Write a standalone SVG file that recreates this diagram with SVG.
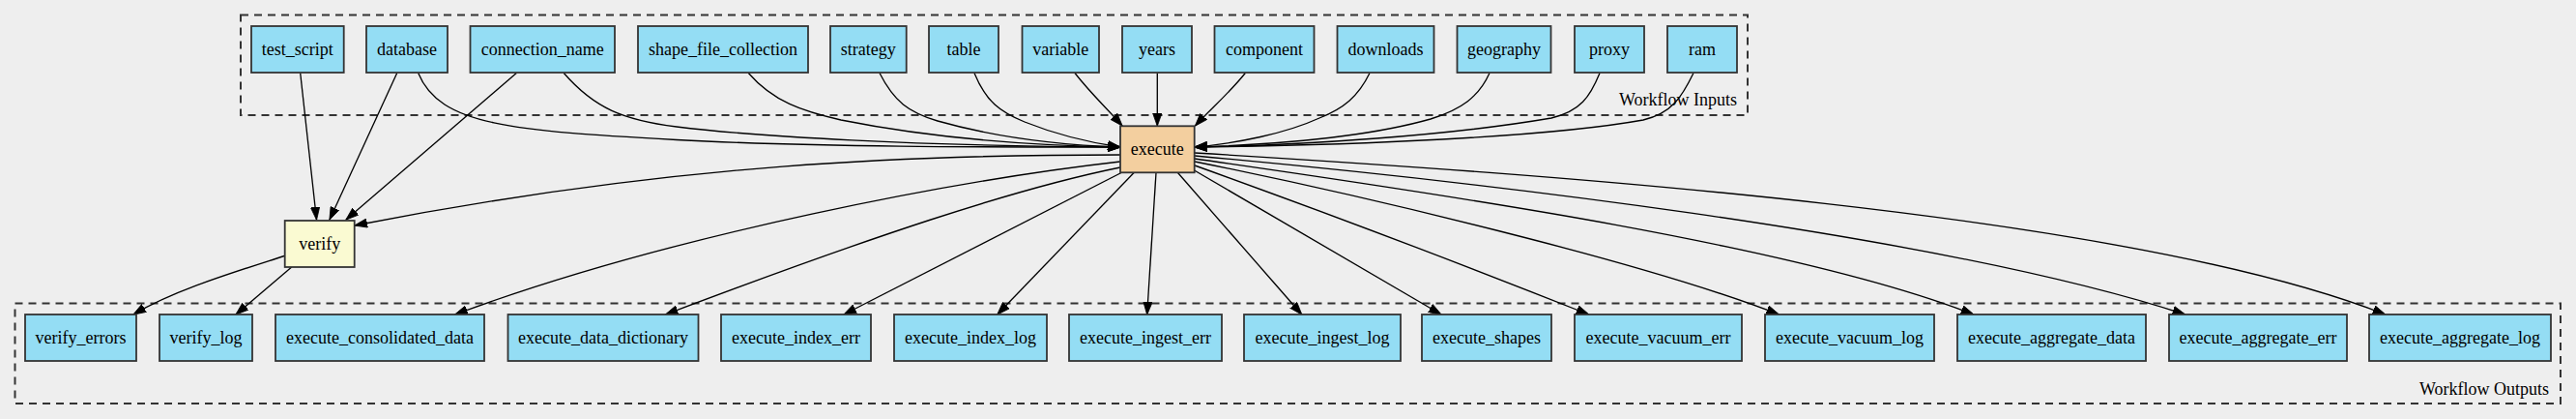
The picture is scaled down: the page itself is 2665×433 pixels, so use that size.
<svg xmlns="http://www.w3.org/2000/svg" width="2665" height="433" viewBox="0 0 2665 433">
<defs>
<style>
.bg{fill:#eeeeee}
.cl{fill:none;stroke:#333;stroke-width:2;stroke-dasharray:8,6}
.in rect,.out rect{fill:#94ddf4;stroke:#333;stroke-width:1.8}
.ex rect{fill:#f3cf9f;stroke:#333;stroke-width:1.8}
.vf rect{fill:#fafad2;stroke:#333;stroke-width:1.8}
text{font-family:"Liberation Serif","Times New Roman",serif;font-size:18px;fill:#000}
.n text{text-anchor:middle}
.lbl{text-anchor:end}
#edges path{fill:none;stroke:#000;stroke-width:1.33;marker-end:url(#ah)}
</style>
<marker id="ah" markerUnits="userSpaceOnUse" viewBox="0 0 14 10" refX="13" refY="5" markerWidth="14" markerHeight="10" orient="auto">
<path d="M0,0.33 L13.33,5 L0,9.67 z" fill="#000" stroke="#000" stroke-width="0.8"/>
</marker>
</defs>
<rect class="bg" x="0" y="0" width="2665" height="433"/>
<g id="cluster_inputs">
<rect class="cl" x="249" y="15.5" width="1559" height="103.5"/>
<text class="lbl" x="1797" y="109">Workflow Inputs</text>
</g>
<g id="cluster_outputs">
<rect class="cl" x="15.5" y="313.5" width="2633.5" height="103.5"/>
<text class="lbl" x="2637" y="408">Workflow Outputs</text>
</g>
<g id="edges">
<path d="M310.7,75.5 L327.5,227"/>
<path d="M410.7,75.5 L341,227"/>
<path d="M534.3,75.5 L358,227"/>
<path d="M1159,160 C950,160 700,168 367,233"/>
<path d="M432.7,75.5 C455,130 530,135 700,144.5 C850,152.5 1050,152 1159,152"/>
<path d="M583.3,75.5 C615,112 645,124 700,131 C780,141 950,151 1159,152"/>
<path d="M774.3,75.5 C800,105 830,115 870,124 C950,140 1050,150 1159,152"/>
<path d="M910,75.5 C925,105 940,116 970,125 C1030,142 1100,150 1159,152"/>
<path d="M1008,75.5 C1020,105 1035,116 1060,126 C1090,138 1125,147 1159,152"/>
<path d="M1112,75.5 C1128,96 1145,112 1161,130"/>
<path d="M1197.3,75.5 L1197.3,130"/>
<path d="M1288.3,75.5 C1272,96 1252,113 1236.5,130"/>
<path d="M1417,75.5 C1405,100 1390,112 1365,122 C1330,138 1280,148 1236,152"/>
<path d="M1541,75.5 C1530,100 1512,113 1480,123 C1420,140 1330,149 1236,152"/>
<path d="M1655,75.5 C1645,100 1635,115 1605,122 C1500,140 1350,150 1236,152"/>
<path d="M1752,75.5 C1740,100 1730,117 1700,124 C1600,142 1400,150 1236,152"/>
<path d="M294,264.5 C240,282 180,300 138,325"/>
<path d="M301.7,276 L244,325"/>
<path d="M1159,167 C1000,185 700,240 470.7,325"/>
<path d="M1159,173 C1050,195 900,245 688.5,325"/>
<path d="M1161,178 C1100,210 1000,260 873,325"/>
<path d="M1173.3,178.3 L1031.8,325"/>
<path d="M1196,178.3 L1186.7,325"/>
<path d="M1218.3,178.3 L1346.7,325"/>
<path d="M1235.5,176 L1491,325"/>
<path d="M1236,171 C1370,219 1510,272 1643.7,325"/>
<path d="M1236,167 C1400,200 1700,270 1840.4,325"/>
<path d="M1236,164 C1450,195 1850,250 2041.8,325"/>
<path d="M1236,161 C1500,185 2000,240 2260.6,325"/>
<path d="M1236,158 C1600,180 2200,220 2467.7,325"/>
</g>
<g id="test_script" class="n in"><rect x="260" y="27" width="95.7" height="48"/><text x="307.85" y="56.5">test_script</text></g>
<g id="database" class="n in"><rect x="379" y="27" width="84" height="48"/><text x="421" y="56.5">database</text></g>
<g id="connection_name" class="n in"><rect x="486.5" y="27" width="149.5" height="48"/><text x="561.25" y="56.5">connection_name</text></g>
<g id="shape_file_collection" class="n in"><rect x="660" y="27" width="176" height="48"/><text x="748" y="56.5">shape_file_collection</text></g>
<g id="strategy" class="n in"><rect x="859" y="27" width="78.7" height="48"/><text x="898.35" y="56.5">strategy</text></g>
<g id="table" class="n in"><rect x="961" y="27" width="72" height="48"/><text x="997" y="56.5">table</text></g>
<g id="variable" class="n in"><rect x="1057.5" y="27" width="79.5" height="48"/><text x="1097.25" y="56.5">variable</text></g>
<g id="years" class="n in"><rect x="1161" y="27" width="72" height="48"/><text x="1197" y="56.5">years</text></g>
<g id="component" class="n in"><rect x="1256.5" y="27" width="103" height="48"/><text x="1308" y="56.5">component</text></g>
<g id="downloads" class="n in"><rect x="1383.5" y="27" width="100" height="48"/><text x="1433.5" y="56.5">downloads</text></g>
<g id="geography" class="n in"><rect x="1507.5" y="27" width="97" height="48"/><text x="1556" y="56.5">geography</text></g>
<g id="proxy" class="n in"><rect x="1629" y="27" width="72" height="48"/><text x="1665" y="56.5">proxy</text></g>
<g id="ram" class="n in"><rect x="1725" y="27" width="72" height="48"/><text x="1761" y="56.5">ram</text></g>
<g id="execute" class="n ex"><rect x="1159" y="130.3" width="76.7" height="48"/><text x="1197.35" y="159.8">execute</text></g>
<g id="verify" class="n vf"><rect x="294.7" y="228" width="72" height="48"/><text x="330.7" y="257.5">verify</text></g>
<g id="verify_errors" class="n out"><rect x="26" y="325" width="115" height="48"/><text x="83.5" y="354.5">verify_errors</text></g>
<g id="verify_log" class="n out"><rect x="165" y="325" width="96" height="48"/><text x="213" y="354.5">verify_log</text></g>
<g id="execute_consolidated_data" class="n out"><rect x="285" y="325" width="216" height="48"/><text x="393" y="354.5">execute_consolidated_data</text></g>
<g id="execute_data_dictionary" class="n out"><rect x="525.5" y="325" width="197" height="48"/><text x="624" y="354.5">execute_data_dictionary</text></g>
<g id="execute_index_err" class="n out"><rect x="746" y="325" width="155" height="48"/><text x="823.5" y="354.5">execute_index_err</text></g>
<g id="execute_index_log" class="n out"><rect x="925" y="325" width="158" height="48"/><text x="1004" y="354.5">execute_index_log</text></g>
<g id="execute_ingest_err" class="n out"><rect x="1106" y="325" width="158" height="48"/><text x="1185" y="354.5">execute_ingest_err</text></g>
<g id="execute_ingest_log" class="n out"><rect x="1287" y="325" width="162" height="48"/><text x="1368" y="354.5">execute_ingest_log</text></g>
<g id="execute_shapes" class="n out"><rect x="1471" y="325" width="134" height="48"/><text x="1538" y="354.5">execute_shapes</text></g>
<g id="execute_vacuum_err" class="n out"><rect x="1629" y="325" width="173" height="48"/><text x="1715.5" y="354.5">execute_vacuum_err</text></g>
<g id="execute_vacuum_log" class="n out"><rect x="1826" y="325" width="175" height="48"/><text x="1913.5" y="354.5">execute_vacuum_log</text></g>
<g id="execute_aggregate_data" class="n out"><rect x="2025" y="325" width="195" height="48"/><text x="2122.5" y="354.5">execute_aggregate_data</text></g>
<g id="execute_aggregate_err" class="n out"><rect x="2244" y="325" width="184" height="48"/><text x="2336" y="354.5">execute_aggregate_err</text></g>
<g id="execute_aggregate_log" class="n out"><rect x="2451" y="325" width="188" height="48"/><text x="2545" y="354.5">execute_aggregate_log</text></g>
</svg>
